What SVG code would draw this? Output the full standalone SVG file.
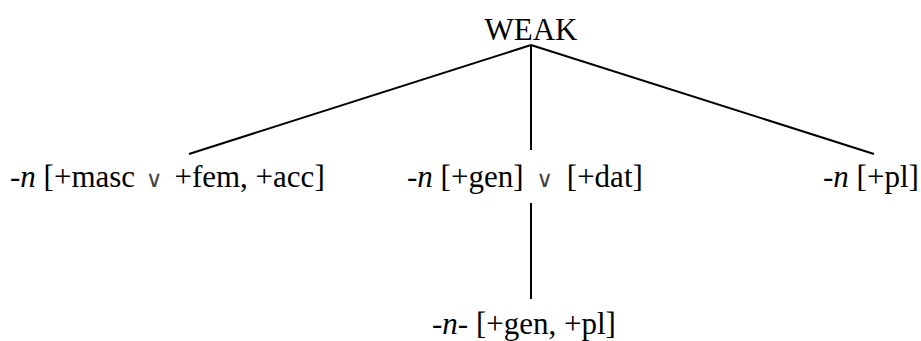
<svg xmlns="http://www.w3.org/2000/svg" width="921" height="341" viewBox="0 0 921 341">
<style>
.t{font-family:'Liberation Serif','Times New Roman',serif;font-size:31px;fill:#000}
.i{font-style:italic}
.or{font-family:'DejaVu Sans',sans-serif;font-size:23px;fill:#444}
.c{stroke:#000;stroke-width:2;fill:none}
</style>
<rect width="921" height="341" fill="#fff"/>
<g id="connectors">
<line class="c" x1="531" y1="45" x2="189" y2="154"/>
<line class="c" x1="531" y1="45" x2="531" y2="150"/>
<line class="c" x1="531" y1="45" x2="874" y2="154"/>
<line class="c" x1="531" y1="203" x2="531" y2="299"/>
</g>
<g id="weak"><text class="t" x="531" y="39.5" text-anchor="middle">WEAK</text></g>
<g id="n-masc-fem"><text class="t" x="10" y="187">-<tspan class="i">n</tspan> [+masc <tspan class="or" dx="3">∨</tspan><tspan dx="4"> +fem, +acc]</tspan></text></g>
<g id="n-gen-dat"><text class="t" x="407" y="187">-<tspan class="i">n</tspan> [+gen] <tspan class="or" dx="5">∨</tspan><tspan dx="6"> [+dat]</tspan></text></g>
<g id="n-pl"><text class="t" x="823" y="187">-<tspan class="i">n</tspan> [+pl]</text></g>
<g id="n-gen-pl"><text class="t" x="432" y="334">-<tspan class="i">n</tspan>- [+gen, +pl]</text></g>
</svg>
